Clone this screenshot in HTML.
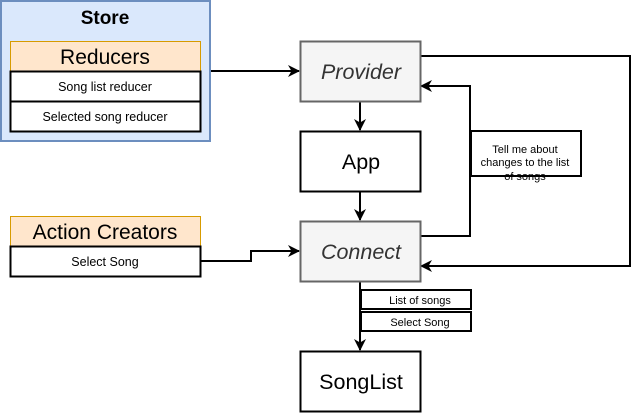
<!DOCTYPE html>
<html><head><style>body{margin:0;background:#fff}</style></head><body>
<svg width="640" height="413" xmlns="http://www.w3.org/2000/svg" font-family="Liberation Sans, Arial, sans-serif">
<defs><marker id="a" markerWidth="12" markerHeight="12" refX="11" refY="6" orient="auto" markerUnits="userSpaceOnUse"><path d="M0,0 L12,6 L0,12 L3.5,6 z" fill="#000"/></marker></defs>
<rect x="1" y="1" width="209" height="140" fill="#dae8fc" stroke="#6c8ebf" stroke-width="2"/>
<text x="105" y="24" font-size="19" font-weight="bold" text-anchor="middle">Store</text>
<rect x="10.5" y="41.5" width="190" height="30" fill="#ffe6cc" stroke="#d79b00"/>
<text x="105" y="64" font-size="21" text-anchor="middle">Reducers</text>
<rect x="10.5" y="71.5" width="190" height="30" fill="#fff" stroke="#000" stroke-width="2"/>
<text x="105" y="91" font-size="12.5" text-anchor="middle">Song list reducer</text>
<rect x="10.5" y="101.5" width="190" height="30" fill="#fff" stroke="#000" stroke-width="2"/>
<text x="105" y="121" font-size="12.5" text-anchor="middle">Selected song reducer</text>
<rect x="10.5" y="216.5" width="190" height="30" fill="#ffe6cc" stroke="#d79b00"/>
<text x="105" y="239" font-size="21" text-anchor="middle">Action Creators</text>
<rect x="10.5" y="246.5" width="190" height="30" fill="#fff" stroke="#000" stroke-width="2"/>
<text x="105" y="266" font-size="12.5" text-anchor="middle">Select Song</text>
<g stroke="#000" stroke-width="2" fill="none">
<path d="M211,71 H299" marker-end="url(#a)"/>
<path d="M201,261 H251 V251 H299" marker-end="url(#a)"/>
<path d="M360,102 V130" marker-end="url(#a)"/>
<path d="M360,192 V220" marker-end="url(#a)"/>
<path d="M421,56 H630 V266 H421" marker-end="url(#a)"/>
<path d="M421,236 H470 V86 H421" marker-end="url(#a)"/>
<path d="M360,282 V350" marker-end="url(#a)"/>
</g>
<rect x="300.5" y="41.5" width="120" height="60" fill="#f5f5f5" stroke="#666" stroke-width="2"/>
<text x="361" y="79" font-size="21.5" font-style="italic" fill="#333" text-anchor="middle">Provider</text>
<rect x="300.5" y="131.5" width="120" height="60" fill="#fff" stroke="#000" stroke-width="2"/>
<text x="361" y="169" font-size="21.5" text-anchor="middle">App</text>
<rect x="300.5" y="221.5" width="120" height="60" fill="#f5f5f5" stroke="#666" stroke-width="2"/>
<text x="361" y="259" font-size="21.5" font-style="italic" fill="#333" text-anchor="middle">Connect</text>
<rect x="300.5" y="351.5" width="120" height="60" fill="#fff" stroke="#000" stroke-width="2"/>
<text x="361" y="389" font-size="21.5" text-anchor="middle">SongList</text>
<rect x="471" y="131" width="110" height="45" fill="#fff" stroke="#000" stroke-width="2"/>
<text font-size="11" text-anchor="middle"><tspan x="525" y="153">Tell me about</tspan><tspan x="525" y="166">changes to the list</tspan><tspan x="525" y="180">of songs</tspan></text>
<rect x="361" y="290" width="110" height="19" fill="#fff" stroke="#000" stroke-width="2"/>
<text x="420" y="304" font-size="11" text-anchor="middle">List of songs</text>
<rect x="361" y="312" width="110" height="19" fill="#fff" stroke="#000" stroke-width="2"/>
<text x="420" y="326" font-size="11" text-anchor="middle">Select Song</text>
</svg>
</body></html>
